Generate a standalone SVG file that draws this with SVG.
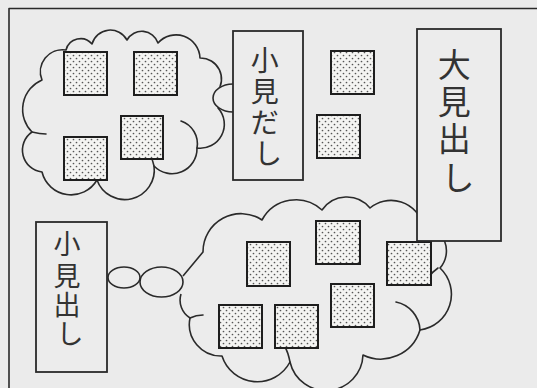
<svg xmlns="http://www.w3.org/2000/svg" width="537" height="388" viewBox="0 0 537 388">
  <style>
    .line { fill: none; stroke: #2a2a2a; stroke-width: 1.6; stroke-linecap: round; stroke-linejoin: round; }
    .cloud { fill: #ececec; stroke: #2a2a2a; stroke-width: 1.6; stroke-linejoin: round; }
    .box { fill: #ececec; stroke: #2a2a2a; stroke-width: 1.8; }
    .sq { fill: url(#dots); stroke: #1e1e1e; stroke-width: 2; }
    .label { font-family: "Noto Sans CJK JP", "Noto Sans", sans-serif; fill: #333; text-anchor: middle; }
  </style>
  <defs>
    <pattern id="dots" width="6" height="6" patternUnits="userSpaceOnUse">
      <rect width="6" height="6" fill="#f4f4f2"/>
      <circle cx="1.5" cy="1.5" r="0.85" fill="#555"/>
      <circle cx="4.5" cy="4.5" r="0.85" fill="#555"/>
    </pattern>
  </defs>

  <rect x="0" y="0" width="537" height="388" fill="#ebebeb"/>

  <!-- frame -->
  <path class="line" d="M9,388 L9,8.5 L537,8.5"/>

  <!-- top-left cloud -->
  <g id="cloud-top">
    <path class="cloud" d="M32,132 A32 32 0 0 1 42,80 A22 22 0 0 1 66,50 A15 15 0 0 1 92,44 A19 19 0 0 1 127,40 A17 17 0 0 1 158,43 A24 24 0 0 1 200,58 A21 21 0 0 1 217,92 A9 9 0 0 1 218,108 A24 24 0 0 1 197,148 A25 25 0 0 1 154,166 A29.5 29.5 0 0 1 97,180 A30 30 0 0 1 42,172 A22 22 0 0 1 32,132 Z"/>
    <path class="line" d="M181,121 A24 24 0 0 1 197,148"/>
    <path class="line" d="M32,132 Q40,134 46,134"/>
    <path class="line" d="M154,166 Q152,158 150,154"/>
    <rect class="sq" x="64" y="52" width="43" height="43"/>
    <rect class="sq" x="134" y="52" width="43" height="43"/>
    <rect class="sq" x="121" y="116" width="42" height="43"/>
    <rect class="sq" x="64" y="137" width="43" height="43"/>
  </g>

  <!-- bottom cloud -->
  <g id="cloud-bottom">
    <path class="cloud" d="M183,276 L203,252 A38 38 0 0 1 262,220 A38.5 38.5 0 0 1 322,210 A30 30 0 0 1 370,208 A33 33 0 0 1 423,225 A26 26 0 0 1 440,268 A36 36 0 0 1 420,330 A41 41 0 0 1 363,355 A37 37 0 0 1 290,362 A37 37 0 0 1 222,356 A31.6 31.6 0 0 1 190,318 A21 21 0 0 1 181,294"/>
    <path class="line" d="M396,302 A30 30 0 0 1 420,330"/>
    <path class="line" d="M438,268 Q432,272 428,278"/>
    <path class="line" d="M190,318 Q196,315 203,315"/>
    <path class="line" d="M290,362 Q288,352 285,347"/>
    <rect class="sq" x="247" y="242" width="43" height="44"/>
    <rect class="sq" x="316" y="221" width="44" height="43"/>
    <rect class="sq" x="387" y="242" width="44" height="43"/>
    <rect class="sq" x="331" y="284" width="43" height="43"/>
    <rect class="sq" x="219" y="305" width="43" height="43"/>
    <rect class="sq" x="275" y="305" width="43" height="43"/>
  </g>

  <!-- loose squares -->
  <g id="square-a"><rect class="sq" x="331" y="51" width="43" height="43"/></g>
  <g id="square-b"><rect class="sq" x="317" y="115" width="43" height="43"/></g>

  <!-- connectors (speech bubbles) -->
  <g id="connectors">
    <path class="cloud" d="M233,84 A20 14 0 0 0 233,112"/>
    <ellipse class="cloud" cx="161.5" cy="282" rx="21.5" ry="15"/>
    <ellipse class="cloud" cx="124" cy="277.5" rx="16" ry="10.5"/>
  </g>

  <!-- 小見だし -->
  <g id="box-komidashi-top">
    <rect class="box" x="233" y="31" width="70" height="149"/>
    <text class="label" font-size="28">
      <tspan x="268" y="71">小</tspan>
      <tspan x="268" y="102">見</tspan>
      <tspan x="268" y="133">だ</tspan>
      <tspan x="268" y="164">し</tspan>
    </text>
  </g>

  <!-- 大見出し -->
  <g id="box-omidashi">
    <rect class="box" x="417" y="29" width="84" height="212"/>
    <text class="label" font-size="33">
      <tspan x="458" y="77">大</tspan>
      <tspan x="458" y="114">見</tspan>
      <tspan x="458" y="151">出</tspan>
      <tspan x="458" y="190">し</tspan>
    </text>
  </g>

  <!-- 小見出し -->
  <g id="box-komidashi-bottom">
    <rect class="box" x="36" y="222" width="71" height="150"/>
    <text class="label" font-size="27">
      <tspan x="70" y="254">小</tspan>
      <tspan x="70" y="286">見</tspan>
      <tspan x="70" y="315">出</tspan>
      <tspan x="70" y="344">し</tspan>
    </text>
  </g>
</svg>
